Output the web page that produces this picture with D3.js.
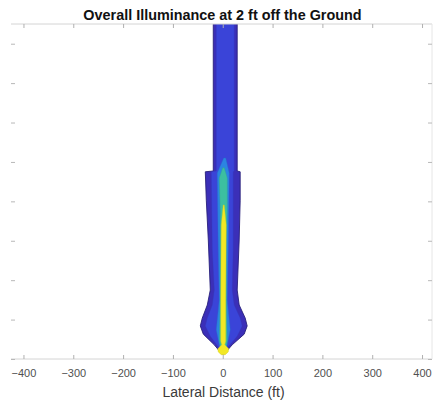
<!DOCTYPE html>
<html><head><meta charset="utf-8">
<script src="https://cdn.jsdelivr.net/npm/d3@7"></script>
<style>body{margin:0;background:#fff}svg{display:block}text{font-family:"Liberation Sans",Arial,Helvetica,sans-serif}</style>
</head><body><svg id="c" width="433" height="402"></svg>
<script>
// Chart values
const title = "Overall Illuminance at 2 ft off the Ground";
const xLabel = "Lateral Distance (ft)";
const xTicks = [-400, -300, -200, -100, 0, 100, 200, 300, 400];
const yTicks = [0, 100, 200, 300, 400, 500, 600, 700, 800];
const xDomain = [-425, 420];
const yDomain = [0, 850];
// contour bands: [longitudinal distance ft, left lateral ft, right lateral ft]
const bandLevel1 = [[870,-19,29],[477,-19,29],[475,-35,35],[403,-33,35],[302,-29,33],[175,-25,29],[137,-31,33],[104,-41,45],[84,-45,49],[63,-39,43],[36,-17,19],[13,-2,3]];
const bandLevel2 = [[870,-13,23],[477,-13,23],[475,-23,21],[277,-21,21],[175,-17,19],[137,-21,23],[104,-31,35],[84,-35,39],[58,-25,29],[28,-7,9],[18,-1,2]];
const bandLevel3 = [[510,2,6],[472,-11,13],[277,-9,11],[150,-7,9],[74,-13,15],[36,-7,9],[15,-1,2]];
const bandLevel4 = [[485,0,3],[459,-7,9],[378,-5,9],[302,-5,7],[150,-5,7],[48,-7,9],[18,-3,5]];
const bandLevel5 = [[391,1,3],[340,-3,7],[150,-4,6],[45,-4,6],[36,-2,4],[31,-6,8],[26,-10,12],[18,-9,11],[11,-3,5]];
const bands = [bandLevel1, bandLevel2, bandLevel3, bandLevel4, bandLevel5];
const bandColors = ["#3b2fb8", "#3a44d8", "#2b84e2", "#3cbfa0", "#f2e824"];

const svg = d3.select("#c");
const L = 11, R = 432, T = 24, B = 359;
const x = d3.scaleLinear().domain(xDomain).range([L, R]);
const y = d3.scaleLinear().domain(yDomain).range([B, T]);

svg.append("defs").append("clipPath").attr("id","clip")
  .append("rect").attr("x",L).attr("y",T).attr("width",R-L).attr("height",B-T);

const g = svg.append("g").attr("clip-path","url(#clip)");
bands.forEach((b, i) => {
  g.append("path").attr("d", d3.area().x0(d => x(d[1])).x1(d => x(d[2])).y(d => y(d[0]))(b))
    .attr("fill", bandColors[i])
    .attr("stroke", i === 0 ? "#28207a" : d3.color(bandColors[i]).darker(0.4))
    .attr("stroke-width", i === 0 ? 0.9 : 0.4);
});

// frame
const fc = "#d4d4d4";
svg.append("line").attr("x1",L).attr("x2",R).attr("y1",T).attr("y2",T).attr("stroke",fc);
svg.append("line").attr("x1",L).attr("x2",R).attr("y1",B).attr("y2",B).attr("stroke",fc);
svg.append("line").attr("x1",R).attr("x2",R).attr("y1",T).attr("y2",B).attr("stroke","#e6e6e6");

// ticks via axes
const tl = 4;
const xb = svg.append("g").attr("transform",`translate(0,${B})`)
  .call(d3.axisBottom(x).tickValues(xTicks).tickSizeInner(-tl).tickSizeOuter(0).tickPadding(10.5));
xb.select(".domain").remove();
xb.selectAll("line").attr("stroke","#b0b0b0");
xb.selectAll("text").attr("font-size","11px").attr("fill","#505050");
const xt = svg.append("g").attr("transform",`translate(0,${T})`)
  .call(d3.axisTop(x).tickValues(xTicks).tickSizeInner(-tl).tickSizeOuter(0).tickFormat(""));
xt.select(".domain").remove();
xt.selectAll("line").attr("stroke","#b0b0b0");
const yl = svg.append("g").attr("transform",`translate(${L},0)`)
  .call(d3.axisLeft(y).tickValues(yTicks).tickSizeInner(-tl).tickSizeOuter(0).tickFormat(""));
yl.select(".domain").remove();
yl.selectAll("line").attr("stroke","#b8b8b8");
const yr = svg.append("g").attr("transform",`translate(${R},0)`)
  .call(d3.axisRight(y).tickValues(yTicks).tickSizeInner(-tl).tickSizeOuter(0).tickFormat(""));
yr.select(".domain").remove();
yr.selectAll("line").attr("stroke","#b8b8b8");

svg.append("text").attr("x",223.5).attr("y",397).attr("text-anchor","middle")
  .attr("font-size","14px").attr("fill","#3a3a3a").text(xLabel);
svg.append("text").attr("x",222.5).attr("y",20).attr("text-anchor","middle")
  .attr("font-size","14.4px").attr("font-weight","bold").attr("fill","#111").text(title);
</script></body></html>
